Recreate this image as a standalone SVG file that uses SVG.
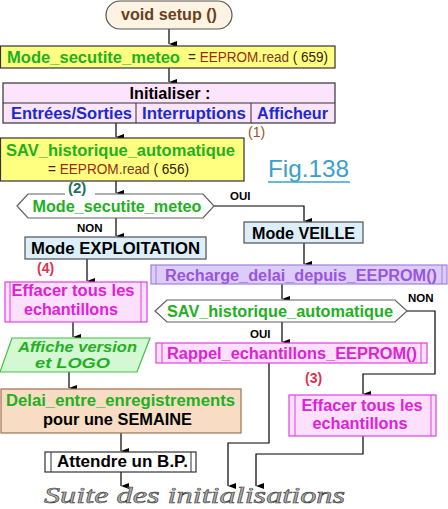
<svg xmlns="http://www.w3.org/2000/svg" width="448" height="509" viewBox="0 0 448 509">
<defs>
<marker id="ah" viewBox="0 0 6 8" refX="3" refY="8" markerWidth="6" markerHeight="8" orient="auto-start-reverse" markerUnits="userSpaceOnUse">
<path d="M0,0 L6,0 L3,8 Z" fill="#000"/>
</marker>
</defs>
<style>
text{font-family:"Liberation Sans",Arial,sans-serif;font-weight:bold}
.g{fill:#22b022;font-size:17px}
.b{fill:#1a2ad0;font-size:16px}
.k{fill:#000;font-size:16px}
.m{fill:#e020d8;font-size:16px}
.p{fill:#9a55e0;font-size:16px}
.lbl{fill:#000;font-size:11.5px}
.num{font-size:14px}
.reg{font-weight:normal;font-size:14px}
.yel{fill:#ffff80;stroke:#333;stroke-width:1.2}
.blu{fill:#dceefa;stroke:#505050;stroke-width:1.2}
.pnk{fill:#fde0fb;stroke:#e040e0;stroke-width:1.2}
.pin{fill:none;stroke:#e040e0;stroke-width:1}
.pur{fill:#dcccf8;stroke:#a080e0;stroke-width:1.2}
.hex{fill:#fff;stroke:#606060;stroke-width:1.2}
.con{fill:none;stroke:#000;stroke-width:1.2}
</style>

<g id="connectors">
<path class="con" d="M169,29 V44" marker-end="url(#ah)"/>
<path class="con" d="M169,68 V82" marker-end="url(#ah)"/>
<path class="con" d="M116,123 V137" marker-end="url(#ah)"/>
<path class="con" d="M116,181 V193" marker-end="url(#ah)"/>
<path class="con" d="M214,206 H304 V221" marker-end="url(#ah)"/>
<path class="con" d="M116,218 V236" marker-end="url(#ah)"/>
<path class="con" d="M304,243 V264" marker-end="url(#ah)"/>
<path class="con" d="M87,259 V281" marker-end="url(#ah)"/>
<path class="con" d="M282,284 V299" marker-end="url(#ah)"/>
<path class="con" d="M407,311 H435 V374 H363 V394" marker-end="url(#ah)"/>
<path class="con" d="M282,322 V342" marker-end="url(#ah)"/>
<path class="con" d="M73,322 V337" marker-end="url(#ah)"/>
<path class="con" d="M69,372 V388" marker-end="url(#ah)"/>
<path class="con" d="M121,433 V451" marker-end="url(#ah)"/>
<path class="con" d="M121,472 V486" marker-end="url(#ah)"/>
<path class="con" d="M269,363 V443 H228 V486" marker-end="url(#ah)"/>
<path class="con" d="M363,436 V454 H256 V486" marker-end="url(#ah)"/>
<text class="lbl" x="230" y="200">OUI</text>
<text class="lbl" x="77" y="232">NON</text>
<text class="lbl" x="408" y="302">NON</text>
<text class="lbl" x="250" y="338">OUI</text>
</g>

<g id="start">
<rect x="106" y="1" width="126" height="28" rx="14" fill="#fdf3e3" stroke="#555" stroke-width="1.2"/>
<text x="169" y="20" text-anchor="middle" style="fill:#6b3f1f;font-size:16px" textLength="96" lengthAdjust="spacingAndGlyphs">void setup ()</text>
</g>

<g id="read-meteo">
<rect class="yel" x="0.5" y="46" width="334.5" height="22"/>
<text class="g" x="7" y="63" textLength="173" lengthAdjust="spacingAndGlyphs">Mode_secutite_meteo</text>
<text class="reg" x="188" y="62" textLength="140" lengthAdjust="spacingAndGlyphs"><tspan fill="#402010">= </tspan><tspan fill="#9b2a10">EEPROM</tspan><tspan fill="#7a3a20">.read</tspan><tspan fill="#302010"> ( 659)</tspan></text>
</g>

<g id="init">
<rect x="3" y="83" width="332" height="40" fill="#fce4fc" stroke="#333" stroke-width="1.2"/>
<path d="M3,103 H335 M136,103 V123 M251,103 V123" stroke="#333" stroke-width="1" fill="none"/>
<text class="k" x="170" y="98.5" text-anchor="middle" textLength="81" lengthAdjust="spacingAndGlyphs">Initialiser :</text>
<text class="b" x="11" y="118.5" textLength="121" lengthAdjust="spacingAndGlyphs">Entrées/Sorties</text>
<text class="b" x="142" y="118.5" textLength="104" lengthAdjust="spacingAndGlyphs">Interruptions</text>
<text class="b" x="257" y="118.5" textLength="71" lengthAdjust="spacingAndGlyphs">Afficheur</text>
</g>

<g id="read-sav">
<rect class="yel" x="0.5" y="138" width="243.5" height="43"/>
<text class="g" x="6" y="156" textLength="229" lengthAdjust="spacingAndGlyphs">SAV_historique_automatique</text>
<text class="reg" x="48" y="174" textLength="141" lengthAdjust="spacingAndGlyphs"><tspan fill="#402010">= </tspan><tspan fill="#9b2a10">EEPROM</tspan><tspan fill="#7a3a20">.read</tspan><tspan fill="#302010"> ( 656)</tspan></text>
<text class="num" x="248" y="137" fill="#a05030" style="font-weight:normal">(1)</text>
</g>

<g id="fig">
<text x="268" y="177" style="font-weight:normal;font-size:24px;fill:#3ba0c8" textLength="81" lengthAdjust="spacingAndGlyphs">Fig.138</text>
<path d="M268,182 H350" stroke="#3ba0c8" stroke-width="1.5"/>
</g>

<g id="decision-meteo">
<polygon class="hex" points="17,206 28,194 203,194 214,206 203,218 28,218"/>
<rect x="65" y="190" width="30" height="7" fill="#fff"/>
<text class="num" x="68" y="193" fill="#207060" style="font-size:15px">(2)</text>
<text class="g" x="117" y="212" text-anchor="middle" textLength="169" lengthAdjust="spacingAndGlyphs">Mode_secutite_meteo</text>
</g>

<g id="mode-exploitation">
<rect class="blu" x="25" y="237" width="181" height="22"/>
<text class="k" x="31" y="254" textLength="169" lengthAdjust="spacingAndGlyphs">Mode EXPLOITATION</text>
</g>

<g id="mode-veille">
<rect class="blu" x="244" y="222" width="119" height="21"/>
<text class="k" x="252" y="238.5" textLength="103" lengthAdjust="spacingAndGlyphs">Mode VEILLE</text>
</g>

<g id="recharge">
<rect class="pur" x="151" y="265" width="296" height="19"/>
<path d="M156,265 V284 M442,265 V284" stroke="#a080e0" stroke-width="1"/>
<text class="p" x="165" y="280.5" textLength="272" lengthAdjust="spacingAndGlyphs">Recharge_delai_depuis_EEPROM()</text>
</g>

<g id="decision-sav">
<polygon class="hex" points="155,311 167,300 395,300 407,311 395,322 167,322"/>
<text class="g" x="167" y="317" textLength="226" lengthAdjust="spacingAndGlyphs">SAV_historique_automatique</text>
</g>

<g id="rappel">
<rect class="pnk" x="156" y="343" width="271" height="20"/>
<path class="pin" d="M162,343 V363 M421,343 V363"/>
<text class="m" x="167" y="359" textLength="250" lengthAdjust="spacingAndGlyphs">Rappel_echantillons_EEPROM()</text>
</g>

<g id="effacer-right">
<rect class="pnk" x="289" y="395" width="147" height="41"/>
<path class="pin" d="M295,395 V436 M431,395 V436"/>
<text class="m" x="362" y="410.5" text-anchor="middle" textLength="121" lengthAdjust="spacingAndGlyphs">Effacer tous les</text>
<text class="m" x="360" y="429" text-anchor="middle" textLength="95" lengthAdjust="spacingAndGlyphs">echantillons</text>
<text class="num" x="305" y="383" fill="#e03050">(3)</text>
</g>

<g id="effacer-left">
<rect class="pnk" x="5" y="282" width="142" height="40"/>
<path class="pin" d="M10,282 V322 M141,282 V322"/>
<text class="m" x="73" y="296" text-anchor="middle" textLength="123" lengthAdjust="spacingAndGlyphs">Effacer tous les</text>
<text class="m" x="71" y="315" text-anchor="middle" textLength="94" lengthAdjust="spacingAndGlyphs">echantillons</text>
<text class="num" x="37" y="273" fill="#e03050">(4)</text>
</g>

<g id="affiche">
<polygon points="12,338 150,338 137,372 0,372" fill="#d4f8d4" stroke="#40c040" stroke-width="1.2"/>
<text class="g" x="18" y="352" style="font-style:italic;font-size:14.5px" textLength="119" lengthAdjust="spacingAndGlyphs">Affiche version</text>
<text class="g" x="35" y="368" style="font-style:italic;font-size:14.5px" textLength="75" lengthAdjust="spacingAndGlyphs">et  LOGO</text>
</g>

<g id="delai">
<rect x="1" y="389" width="240" height="44" fill="#f8dcc4" stroke="#a07050" stroke-width="1.2"/>
<text class="g" x="6" y="406" textLength="229" lengthAdjust="spacingAndGlyphs">Delai_entre_enregistrements</text>
<text class="k" x="43" y="425" textLength="149" lengthAdjust="spacingAndGlyphs">pour une SEMAINE</text>
</g>

<g id="attendre">
<rect x="45" y="452" width="151" height="20" fill="#fff" stroke="#333" stroke-width="1.2"/>
<path d="M51,452 V472 M191,452 V472" stroke="#333" stroke-width="1"/>
<text class="k" x="57" y="467" textLength="131" lengthAdjust="spacingAndGlyphs">Attendre un B.P.</text>
</g>

<g id="suite">
<text x="44" y="503" style="font-family:'Liberation Serif','DejaVu Serif',serif;font-style:italic;font-weight:normal;font-size:24px;fill:#b0b0b0;stroke:#404040;stroke-width:0.6" textLength="301" lengthAdjust="spacingAndGlyphs">Suite des initialisations</text>
</g>
</svg>
